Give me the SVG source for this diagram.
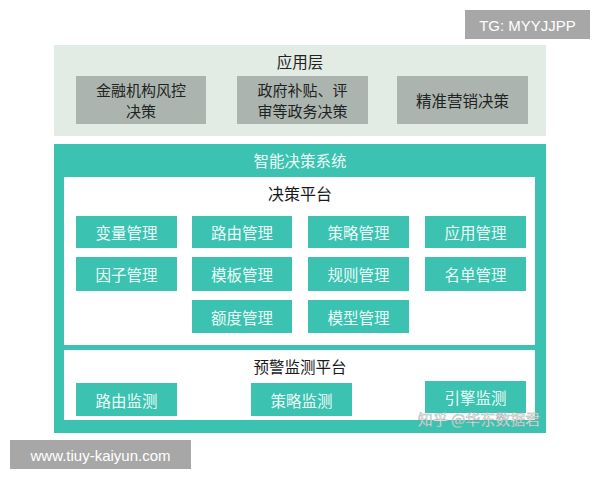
<svg xmlns="http://www.w3.org/2000/svg" width="600" height="480" viewBox="0 0 600 480">
<style>
.cjk{font-family:"Noto Sans CJK SC","Liberation Sans",sans-serif;font-size:15.5px;text-anchor:middle;dominant-baseline:central}
.two{font-size:15px}
.app{fill:#abb4af}
.appt{fill:#1f2321}
.tb{fill:#3bc2b0}
.tbt{fill:#eafcf9}
.dark{fill:#1a1a1a}
.gray{fill:#a7a7a7}
.lat{font-family:"Liberation Sans",Arial,sans-serif;font-size:15px;fill:#ffffff;text-anchor:middle;dominant-baseline:central}
</style>
<rect width="600" height="480" fill="#ffffff"/>
<g id="tg"><rect class="gray" x="465" y="10" width="125" height="29"/><text class="lat" x="527.5" y="25">TG: MYYJJPP</text></g>
<g id="app-layer">
<rect x="54" y="45" width="492" height="91" fill="#e3ebe5"/>
<text class="cjk appt" x="300" y="61">应用层</text>
</g>
<g id="app1"><rect class="app" x="76" y="76" width="130" height="48"/><text class="cjk appt two" x="141" y="89.5">金融机构风控</text><text class="cjk appt two" x="141" y="110.5">决策</text></g>
<g id="app2"><rect class="app" x="237" y="76" width="131" height="48"/><text class="cjk appt two" x="302.5" y="89.5">政府补贴、评</text><text class="cjk appt two" x="302.5" y="110.5">审等政务决策</text></g>
<g id="app3"><rect class="app" x="397" y="76" width="131" height="48"/><text class="cjk appt" x="462.5" y="100">精准营销决策</text></g>
<g id="system">
<rect class="tb" x="54" y="144" width="492" height="289"/>
<text class="cjk tbt" x="300" y="160">智能决策系统</text>
</g>
<g id="decision-platform">
<rect x="64" y="177" width="471" height="168" fill="#ffffff"/>
<text class="cjk dark" x="300" y="193" style="font-size:16px">决策平台</text>
</g>
<g id="n1"><rect class="tb" x="76" y="216" width="101" height="32"/><text class="cjk tbt" x="126.5" y="232">变量管理</text></g>
<g id="n2"><rect class="tb" x="192" y="216" width="100" height="32"/><text class="cjk tbt" x="242" y="232">路由管理</text></g>
<g id="n3"><rect class="tb" x="308" y="216" width="101" height="32"/><text class="cjk tbt" x="358.5" y="232">策略管理</text></g>
<g id="n4"><rect class="tb" x="425" y="216" width="101" height="32"/><text class="cjk tbt" x="475.5" y="232">应用管理</text></g>
<g id="n5"><rect class="tb" x="76" y="257" width="101" height="34"/><text class="cjk tbt" x="126.5" y="274">因子管理</text></g>
<g id="n6"><rect class="tb" x="192" y="257" width="100" height="34"/><text class="cjk tbt" x="242" y="274">模板管理</text></g>
<g id="n7"><rect class="tb" x="308" y="257" width="101" height="34"/><text class="cjk tbt" x="358.5" y="274">规则管理</text></g>
<g id="n8"><rect class="tb" x="425" y="257" width="101" height="34"/><text class="cjk tbt" x="475.5" y="274">名单管理</text></g>
<g id="n9"><rect class="tb" x="192" y="300" width="100" height="33"/><text class="cjk tbt" x="242" y="316.5">额度管理</text></g>
<g id="n10"><rect class="tb" x="308" y="300" width="101" height="33"/><text class="cjk tbt" x="358.5" y="316.5">模型管理</text></g>
<g id="warning-platform">
<rect x="64" y="350" width="471" height="70" fill="#ffffff"/>
<text class="cjk dark" x="300" y="366">预警监测平台</text>
</g>
<g id="m1"><rect class="tb" x="76" y="383" width="101" height="33"/><text class="cjk tbt" x="126.5" y="399.5">路由监测</text></g>
<g id="m2"><rect class="tb" x="251" y="383" width="101" height="33"/><text class="cjk tbt" x="301.5" y="399.5">策略监测</text></g>
<g id="m3"><rect class="tb" x="425" y="381" width="101" height="32"/><text class="cjk tbt" x="475.5" y="397">引擎监测</text></g>
<g id="connectors"></g>
<text class="cjk" x="479" y="418" style="font-size:15px;fill:#ffffff;stroke:#9aa8a4;stroke-width:0.5;opacity:0.9">知乎 @华东数据君</text>
<g id="url"><rect class="gray" x="10" y="440" width="181" height="29"/><text class="lat" x="100.5" y="455">www.tiuy-kaiyun.com</text></g>
</svg>
